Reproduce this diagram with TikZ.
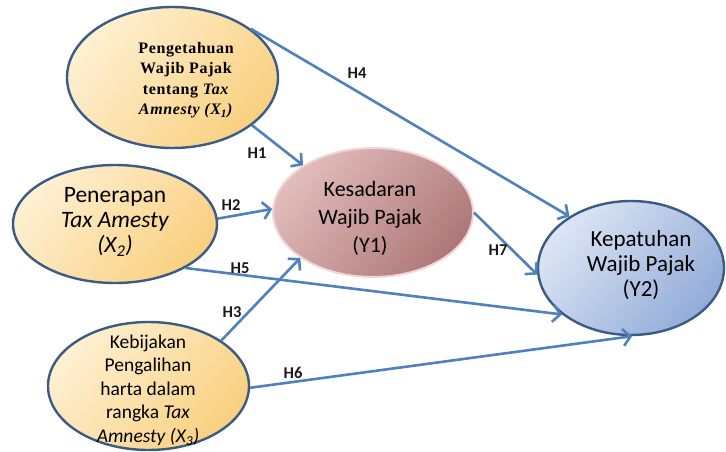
\documentclass[tikz,border=0pt]{standalone}
\usepackage{fontspec}
\setmainfont{Carlito}
\newfontfamily\serifb{Liberation Serif}[LetterSpace=4]
\usetikzlibrary{shapes.geometric,arrows.meta}
\definecolor{ylight}{HTML}{FEF0D2}
\definecolor{ydark}{HTML}{F9D080}
\definecolor{navy}{HTML}{3B5B85}
\definecolor{plight}{HTML}{E2BCBC}
\definecolor{pdark}{HTML}{AE7878}
\definecolor{pborder}{HTML}{F2D6D6}
\definecolor{blight}{HTML}{DCE5F4}
\definecolor{bdark}{HTML}{93ACD8}
\definecolor{arrowblue}{HTML}{4F81BD}
\tikzset{
  yel/.style={ellipse, draw=navy, line width=2.4pt, top color=ylight, bottom color=ydark, shading angle=50, inner sep=0pt},
  pink/.style={ellipse, draw=pborder, line width=2pt, top color=plight, bottom color=pdark, shading angle=50, inner sep=0pt},
  blu/.style={ellipse, draw=navy, line width=2.4pt, top color=blight, bottom color=bdark, shading angle=50, inner sep=0pt},
  arr/.style={draw=arrowblue, line width=2.6pt, -{Straight Barb[length=7.5pt,width=17pt]}},
  lab/.style={font=\fontsize{16.5}{19}\selectfont\bfseries, text=black!90, inner sep=0pt},
  txt/.style={align=center, inner sep=0pt, text=black}
}
\begin{document}
\begin{tikzpicture}[x=1pt,y=-1pt]
\useasboundingbox (0,0) rectangle (726,452);
\fill[white] (0,0) rectangle (726,452);
% ellipses
\node[yel, minimum width=211pt, minimum height=141pt] (X1) at (172.5,77.5) {};
\node[yel, minimum width=204pt, minimum height=118pt] (X2) at (115,224) {};
\node[yel, minimum width=201pt, minimum height=128pt] (X3) at (148.5,386) {};
\node[pink, minimum width=200pt, minimum height=129pt] (Y1) at (373,212.5) {};
\node[blu, minimum width=186pt, minimum height=134pt] (Y2) at (631,268) {};
% texts
\node[txt, font=\serifb\bfseries\fontsize{16}{20.5}\selectfont] (X1t) at (186,80)
  {Pengetahuan\\Wajib Pajak\\tentang \textit{Tax}\\\textit{Amnesty (X\textsubscript{1})}};
\node[txt, font=\fontsize{23.5}{25}\selectfont] (X2t) at (115,222)
  {Penerapan\\\textit{Tax Amesty}\\\textit{(X\textsubscript{2})}};
\node[txt, font=\fontsize{19.5}{23.5}\selectfont] (X3t) at (148,390)
  {Kebijakan\\Pengalihan\\harta dalam\\rangka \textit{Tax}\\\textit{Amnesty (X\textsubscript{3})}};
\node[txt, font=\fontsize{22}{28}\selectfont] (Y1t) at (370,218)
  {Kesadaran\\Wajib Pajak\\(Y1)};
\node[txt, font=\fontsize{23}{25}\selectfont] (Y2t) at (641,265)
  {Kepatuhan\\Wajib Pajak\\(Y2)};
% arrows
\draw[arr] (X1.-31.5) -- (Y1.146);
\draw[arr] (X1.32) -- (Y2.140.4);
\draw[arr] (X2.3) -- (Y1.178);
\draw[arr] (X2.-32.3) -- (Y2.214.5);
\draw[arr] (X3.32.8) -- (Y1.212.3);
\draw[arr] (X3.-1.7) -- (Y2.271);
\draw[arr] (Y1.0) -- (Y2.184);
% labels
\node[lab] (h1) at (257,153) {H1};
\node[lab] (h2) at (231,205) {H2};
\node[lab] (h3) at (232,312) {H3};
\node[lab] (h4) at (357,73) {H4};
\node[lab] (h5) at (240,268) {H5};
\node[lab] (h6) at (293,373) {H6};
\node[lab] (h7) at (498,250) {H7};
\end{tikzpicture}
\end{document}
